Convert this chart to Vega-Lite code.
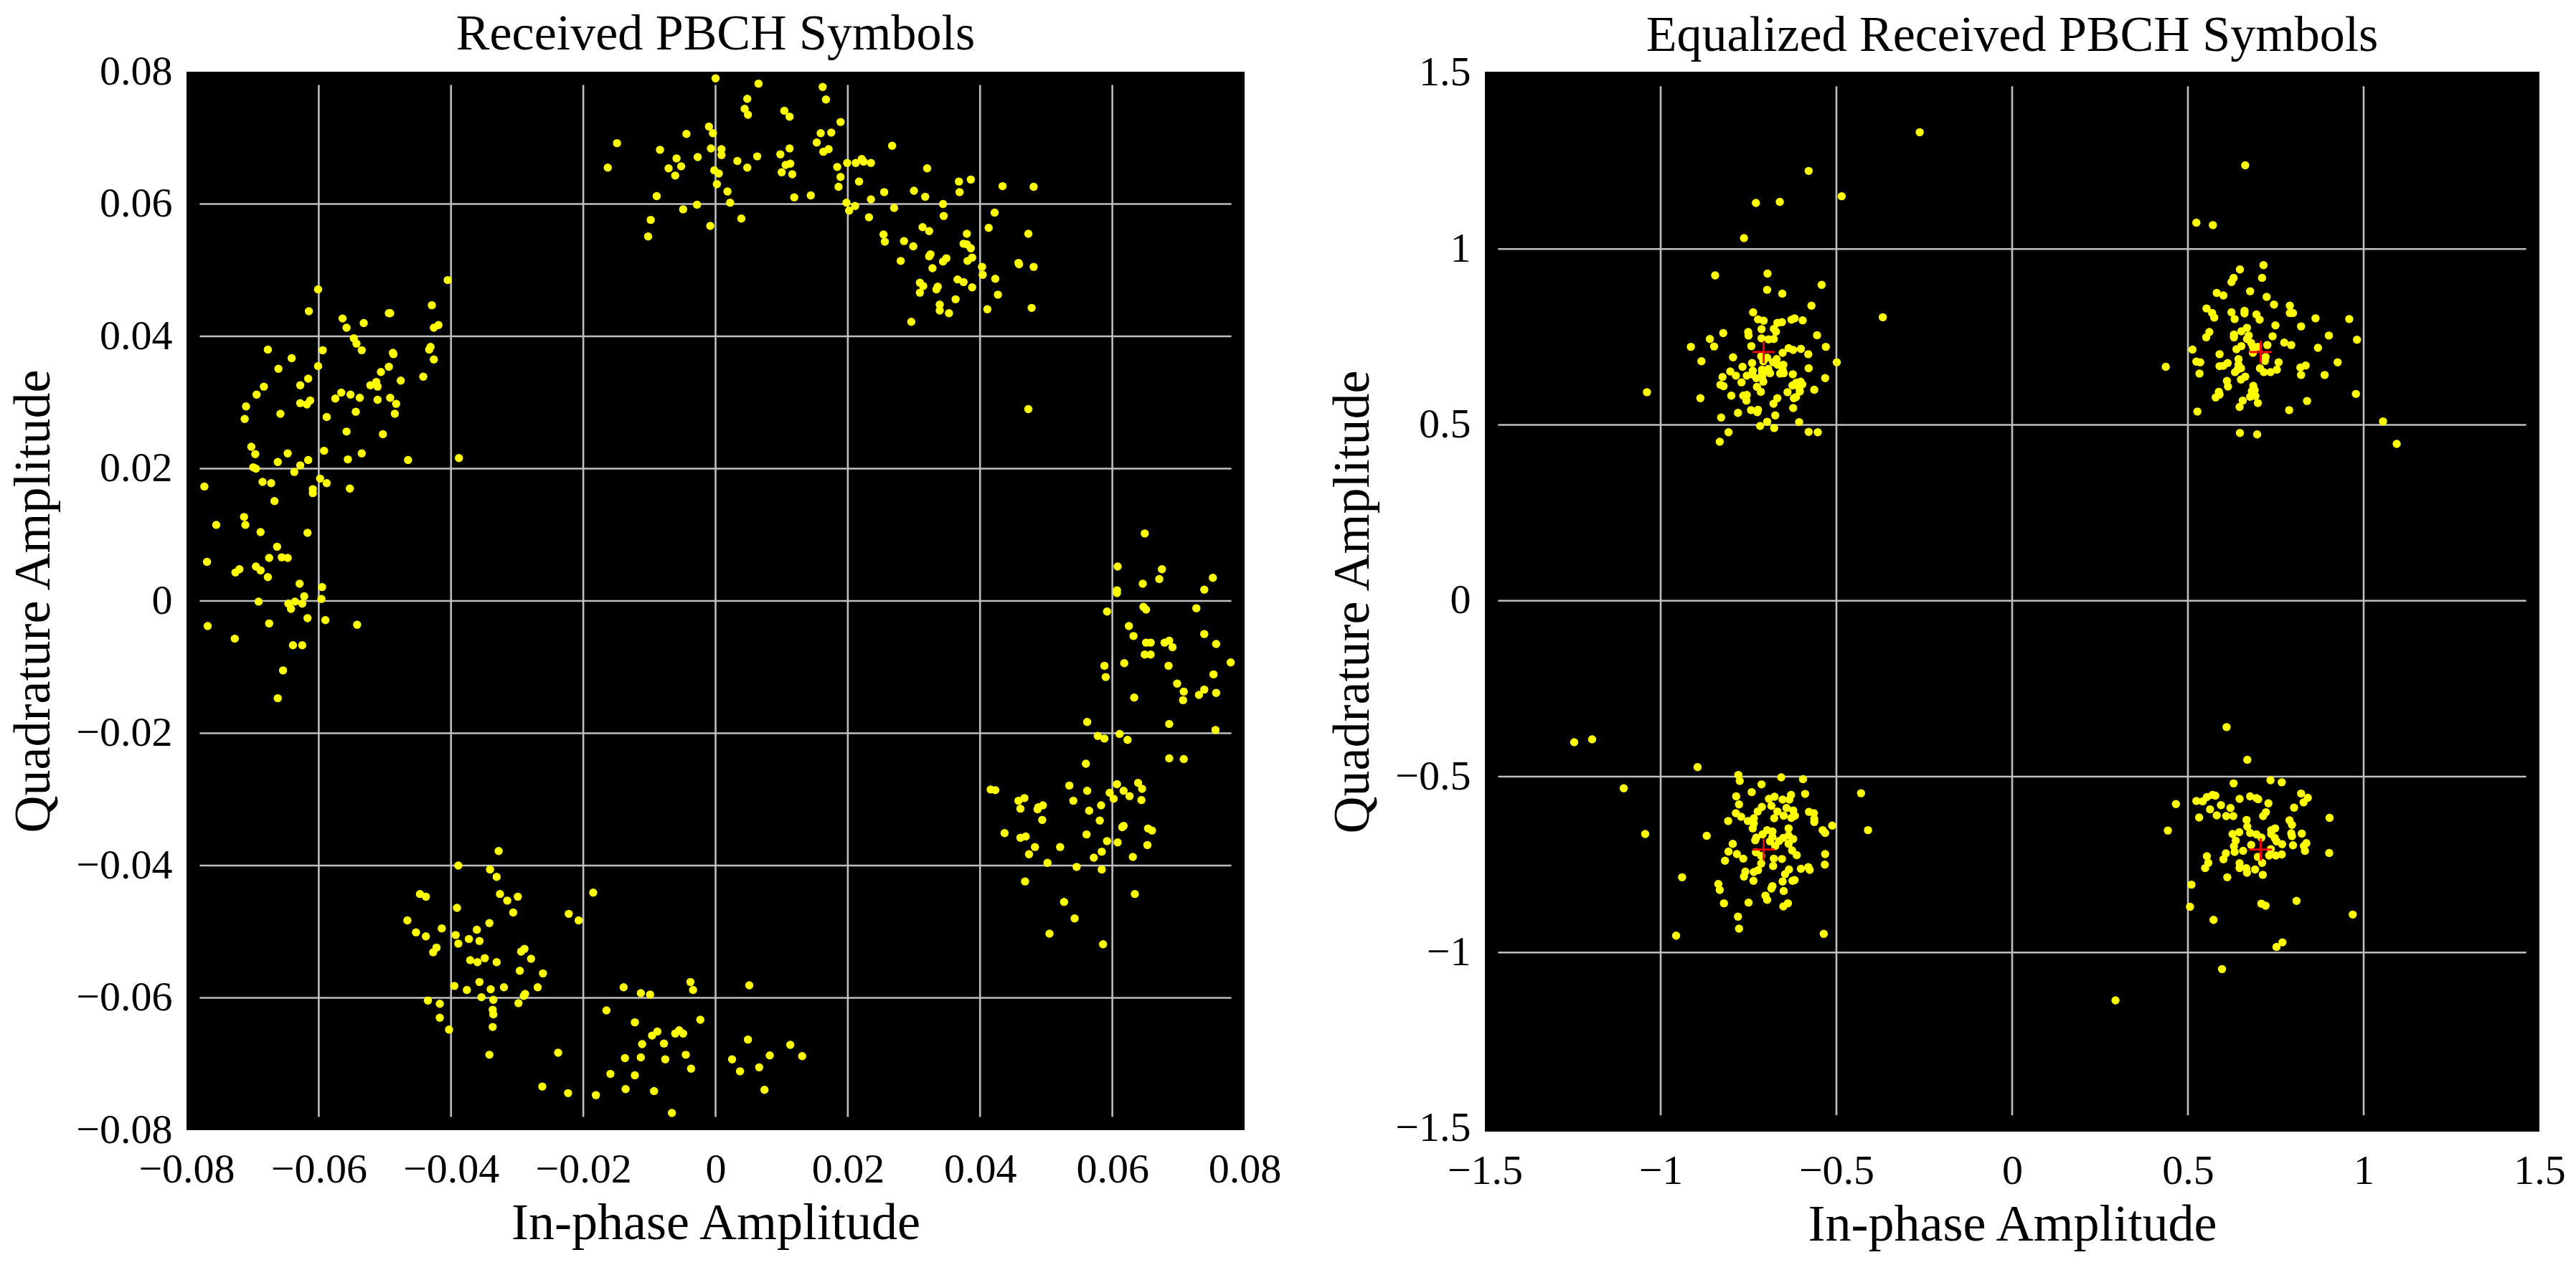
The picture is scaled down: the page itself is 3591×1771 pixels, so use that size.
{"$schema":"https://vega.github.io/schema/vega-lite/v6.json","background":"white","padding":{"left":10,"top":13,"right":50,"bottom":20},"bounds":"flush","spacing":335,
"config":{"view":{"fill":"#000000","stroke":null},"font":"Liberation Serif","title":{"font":"Liberation Serif","fontSize":70,"fontWeight":"normal","color":"#000000","offset":-13},"axis":{"labelFont":"Liberation Serif","titleFont":"Liberation Serif","labelFontSize":58,"titleFontSize":72,"titleFontWeight":"normal","labelColor":"#000000","titleColor":"#000000","grid":false,"domain":false,"ticks":false,"labelOverlap":false,"labelFlush":false}},
"datasets":{
"gridL":[{"v":-0.06,"a":-0.078,"b":0.078},{"v":-0.04,"a":-0.078,"b":0.078},{"v":-0.02,"a":-0.078,"b":0.078},{"v":0,"a":-0.078,"b":0.078},{"v":0.02,"a":-0.078,"b":0.078},{"v":0.04,"a":-0.078,"b":0.078},{"v":0.06,"a":-0.078,"b":0.078}],
"gridR":[{"v":-1,"a":-1.4625,"b":1.4625},{"v":-0.5,"a":-1.4625,"b":1.4625},{"v":0,"a":-1.4625,"b":1.4625},{"v":0.5,"a":-1.4625,"b":1.4625},{"v":1,"a":-1.4625,"b":1.4625}],
"ref":[{"i":-0.7071,"q":0.7071},{"i":0.7071,"q":0.7071},{"i":-0.7071,"q":-0.7071},{"i":0.7071,"q":-0.7071}],
"left":[{"i":0,"q":0.079},{"i":-0.001,"q":0.0717},{"i":-0.0004,"q":0.0707},{"i":-0.0044,"q":0.0706},{"i":-0.0149,"q":0.0692},{"i":-0.0084,"q":0.0682},{"i":-0.0007,"q":0.0684},{"i":-0.0059,"q":0.0669},{"i":-0.0027,"q":0.0671},{"i":-0.0052,"q":0.0657},{"i":-0.0071,"q":0.0654},{"i":-0.0163,"q":0.0655},{"i":-0.0002,"q":0.0651},{"i":-0.0061,"q":0.0643},{"i":0.0002,"q":0.063},{"i":-0.0089,"q":0.0612},{"i":-0.0028,"q":0.0599},{"i":-0.0049,"q":0.0592},{"i":-0.0098,"q":0.0576},{"i":-0.0008,"q":0.0567},{"i":-0.0102,"q":0.0551},
{"i":-0.0405,"q":0.0485},{"i":-0.0601,"q":0.0471},{"i":-0.0429,"q":0.0447},{"i":-0.0615,"q":0.0438},{"i":-0.0564,"q":0.0427},{"i":-0.0494,"q":0.0435},{"i":-0.0492,"q":0.0435},{"i":-0.0532,"q":0.042},{"i":-0.0558,"q":0.0413},{"i":-0.0419,"q":0.0417},{"i":-0.0426,"q":0.0413},{"i":-0.0547,"q":0.0397},{"i":-0.0543,"q":0.0389},{"i":-0.0677,"q":0.038},{"i":-0.0594,"q":0.0379},{"i":-0.0535,"q":0.0379},{"i":-0.0431,"q":0.0384},{"i":-0.0433,"q":0.038},{"i":-0.0488,"q":0.0375},{"i":-0.0487,"q":0.0373},{"i":-0.0641,"q":0.0367},{"i":-0.0426,"q":0.0365},{"i":-0.0601,"q":0.0355},{"i":-0.0494,"q":0.0354},{"i":-0.0661,"q":0.0351},{"i":-0.0506,"q":0.0346},{"i":-0.0442,"q":0.0339},{"i":-0.0616,"q":0.0336},{"i":-0.0476,"q":0.0333},{"i":-0.0513,"q":0.0331},{"i":-0.0522,"q":0.0326},{"i":-0.0511,"q":0.0324},{"i":-0.0628,"q":0.0326},{"i":-0.0683,"q":0.0324},{"i":-0.0694,"q":0.0312},{"i":-0.0566,"q":0.0315},{"i":-0.0552,"q":0.0312},{"i":-0.0575,"q":0.0306},{"i":-0.0538,"q":0.0307},{"i":-0.0492,"q":0.0307},{"i":-0.0511,"q":0.0304},{"i":-0.0613,"q":0.0303},{"i":-0.0628,"q":0.0299},{"i":-0.0618,"q":0.0297},{"i":-0.0483,"q":0.0298},{"i":-0.071,"q":0.0294},{"i":-0.0544,"q":0.0286},{"i":-0.0658,"q":0.0283},{"i":-0.0485,"q":0.0283},{"i":-0.0588,"q":0.0278},{"i":-0.0712,"q":0.0275},{"i":-0.0558,"q":0.0256},{"i":-0.0503,"q":0.0252},{"i":-0.0702,"q":0.0233},{"i":-0.0592,"q":0.0227},{"i":-0.0647,"q":0.0223},{"i":-0.0535,"q":0.0223},{"i":-0.0696,"q":0.0222},{"i":-0.0616,"q":0.0213},{"i":-0.0556,"q":0.0214},{"i":-0.0465,"q":0.0213},{"i":-0.0388,"q":0.0216},{"i":-0.0662,"q":0.021},{"i":-0.0628,"q":0.0205},{"i":-0.0699,"q":0.0202},{"i":-0.0695,"q":0.02},{"i":-0.0637,"q":0.0195},{"i":-0.0598,"q":0.0185},{"i":-0.0773,"q":0.0173},{"i":-0.0685,"q":0.018},{"i":-0.0672,"q":0.0178},{"i":-0.0588,"q":0.0178},{"i":-0.0609,"q":0.0169},{"i":-0.0553,"q":0.017},{"i":-0.0609,"q":0.0163},{"i":-0.0667,"q":0.0151},{"i":-0.0713,"q":0.0127},{"i":-0.0755,"q":0.0115},{"i":-0.0711,"q":0.0115},{"i":-0.0688,"q":0.0104},{"i":-0.0617,"q":0.0103},{"i":-0.0663,"q":0.0082},{"i":-0.0675,"q":0.0065},{"i":-0.0656,"q":0.0066},{"i":-0.0647,"q":0.0065},{"i":-0.0769,"q":0.0059},{"i":-0.0695,"q":0.0052},{"i":-0.0688,"q":0.0046},{"i":-0.072,"q":0.0048},{"i":-0.0726,"q":0.0043},{"i":-0.0677,"q":0.0036},{"i":-0.0629,"q":0.0026},{"i":-0.0595,"q":0.0021},{"i":-0.0622,"q":0.0007},{"i":-0.0596,"q":0.0003},{"i":-0.0691,"q":-0.0001},{"i":-0.0646,"q":-0.0004},{"i":-0.0636,"q":-0.0001},{"i":-0.0625,"q":-0.0004},
{"i":-0.0642,"q":-0.0012},{"i":-0.0617,"q":-0.0026},{"i":-0.059,"q":-0.0029},{"i":-0.0542,"q":-0.0036},{"i":-0.0768,"q":-0.0038},{"i":-0.0675,"q":-0.0034},{"i":-0.0727,"q":-0.0057},{"i":-0.0639,"q":-0.0067},{"i":-0.0625,"q":-0.0067},{"i":-0.0654,"q":-0.0105},{"i":-0.0662,"q":-0.0147},
{"i":-0.0328,"q":-0.0378},{"i":-0.0389,"q":-0.04},{"i":-0.0341,"q":-0.0406},{"i":-0.0331,"q":-0.0417},{"i":-0.0447,"q":-0.0443},{"i":-0.0438,"q":-0.0447},{"i":-0.0326,"q":-0.0443},{"i":-0.0299,"q":-0.0447},{"i":-0.0315,"q":-0.0453},{"i":-0.0185,"q":-0.0441},{"i":-0.0391,"q":-0.0464},{"i":-0.0306,"q":-0.0471},{"i":-0.0222,"q":-0.0473},{"i":-0.0207,"q":-0.0483},{"i":-0.0466,"q":-0.0483},{"i":-0.0342,"q":-0.0487},{"i":-0.0414,"q":-0.0495},{"i":-0.0361,"q":-0.0497},{"i":-0.0453,"q":-0.0501},{"i":-0.0438,"q":-0.0507},{"i":-0.0393,"q":-0.0505},{"i":-0.0373,"q":-0.0511},{"i":-0.0357,"q":-0.0514},{"i":-0.0389,"q":-0.0518},{"i":-0.0422,"q":-0.0524},{"i":-0.0427,"q":-0.0531},{"i":-0.0289,"q":-0.0526},{"i":-0.0294,"q":-0.053},{"i":-0.0279,"q":-0.0541},{"i":-0.0371,"q":-0.0543},{"i":-0.036,"q":-0.0546},{"i":-0.0349,"q":-0.054},{"i":-0.0331,"q":-0.0546},{"i":-0.0296,"q":-0.0559},{"i":-0.0261,"q":-0.0563},{"i":-0.0357,"q":-0.0576},{"i":-0.0395,"q":-0.0582},{"i":-0.0376,"q":-0.0588},{"i":-0.034,"q":-0.0587},{"i":-0.032,"q":-0.0584},{"i":-0.0269,"q":-0.0584},{"i":-0.0288,"q":-0.0594},{"i":-0.029,"q":-0.0597},{"i":-0.0354,"q":-0.0599},{"i":-0.0336,"q":-0.0603},{"i":-0.0435,"q":-0.0604},{"i":-0.0417,"q":-0.0609},{"i":-0.0298,"q":-0.0608},{"i":-0.0337,"q":-0.0618},{"i":-0.0336,"q":-0.0625},{"i":-0.0417,"q":-0.063},{"i":-0.0403,"q":-0.0648},{"i":-0.0337,"q":-0.0644},{"i":-0.0342,"q":-0.0686},{"i":-0.0238,"q":-0.0683},{"i":-0.0262,"q":-0.0734},{"i":-0.0223,"q":-0.0744},{"i":-0.0181,"q":-0.0747},
{"i":-0.0139,"q":-0.0584},{"i":-0.0113,"q":-0.0593},{"i":-0.0099,"q":-0.0595},{"i":-0.0038,"q":-0.0576},{"i":-0.0034,"q":-0.0588},{"i":-0.0165,"q":-0.0619},{"i":-0.0023,"q":-0.0633},{"i":-0.0122,"q":-0.0637},{"i":-0.0088,"q":-0.0651},{"i":-0.0096,"q":-0.0657},{"i":-0.0055,"q":-0.0649},{"i":-0.0061,"q":-0.0654},{"i":-0.0049,"q":-0.0654},{"i":-0.0111,"q":-0.067},{"i":-0.0078,"q":-0.0669},{"i":-0.0045,"q":-0.0686},{"i":-0.0137,"q":-0.0691},{"i":-0.0113,"q":-0.069},{"i":-0.0076,"q":-0.0693},{"i":-0.0037,"q":-0.0707},{"i":-0.0159,"q":-0.0715},{"i":-0.0122,"q":-0.0717},{"i":-0.0136,"q":-0.0738},{"i":-0.0093,"q":-0.0741},{"i":-0.0066,"q":-0.0774},
{"i":0.0065,"q":0.0782},{"i":0.0162,"q":0.0777},{"i":0.0048,"q":0.0759},{"i":0.0167,"q":0.0758},{"i":0.0044,"q":0.0744},{"i":0.0049,"q":0.0735},{"i":0.0104,"q":0.0741},{"i":0.0112,"q":0.0732},{"i":0.0189,"q":0.0724},{"i":0.0159,"q":0.0707},{"i":0.0175,"q":0.0708},{"i":0.0153,"q":0.0693},{"i":0.0267,"q":0.0688},{"i":0.0009,"q":0.0683},{"i":0.0009,"q":0.0674},{"i":0.0112,"q":0.0684},{"i":0.0098,"q":0.0675},{"i":0.0163,"q":0.0679},{"i":0.0171,"q":0.0683},{"i":0.0063,"q":0.0672},{"i":0.0033,"q":0.0665},{"i":0.0221,"q":0.0668},{"i":0.0224,"q":0.0664},{"i":0.0212,"q":0.0662},{"i":0.0235,"q":0.0662},{"i":0.0199,"q":0.0662},{"i":0.0113,"q":0.0661},{"i":0.0106,"q":0.0659},{"i":0.0048,"q":0.0655},{"i":0.0184,"q":0.0656},{"i":0.032,"q":0.0654},{"i":0.01,"q":0.0648},{"i":0.0116,"q":0.0645},{"i":0.0005,"q":0.0646},{"i":0.0189,"q":0.0641},{"i":0.0386,"q":0.0637},{"i":0.0368,"q":0.0634},{"i":0.0217,"q":0.0634},{"i":0.0434,"q":0.0627},{"i":0.0481,"q":0.0626},{"i":0.0186,"q":0.0626},{"i":0.0018,"q":0.0619},{"i":0.03,"q":0.062},{"i":0.0255,"q":0.0618},{"i":0.0369,"q":0.0618},{"i":0.0144,"q":0.0613},{"i":0.0119,"q":0.061},{"i":0.0317,"q":0.0611},{"i":0.0022,"q":0.0602},{"i":0.0235,"q":0.0607},{"i":0.0198,"q":0.0602},{"i":0.0344,"q":0.06},{"i":0.0211,"q":0.0597},{"i":0.0202,"q":0.059},{"i":0.027,"q":0.0594},{"i":0.0422,"q":0.0587},{"i":0.0345,"q":0.0582},{"i":0.0039,"q":0.0578},{"i":0.0232,"q":0.058},{"i":0.0313,"q":0.0565},{"i":0.0413,"q":0.0564},{"i":0.0323,"q":0.0559},{"i":0.0254,"q":0.0554},{"i":0.038,"q":0.0555},{"i":0.0473,"q":0.0555},{"i":0.0256,"q":0.0543},{"i":0.0285,"q":0.0544},{"i":0.0375,"q":0.054},{"i":0.038,"q":0.0539},{"i":0.0299,"q":0.0536},{"i":0.0386,"q":0.0533},{"i":0.0325,"q":0.0524},{"i":0.0323,"q":0.0521},{"i":0.0388,"q":0.0519},{"i":0.0349,"q":0.0518},{"i":0.0344,"q":0.0513},{"i":0.0381,"q":0.0514},{"i":0.028,"q":0.0514},{"i":0.0458,"q":0.0511},{"i":0.0459,"q":0.0509},{"i":0.0481,"q":0.0505},{"i":0.0328,"q":0.0503},{"i":0.0403,"q":0.0505},{"i":0.0404,"q":0.0493},{"i":0.0423,"q":0.0487},{"i":0.0366,"q":0.0486},{"i":0.0375,"q":0.0482},{"i":0.0309,"q":0.0481},{"i":0.0314,"q":0.0476},{"i":0.0336,"q":0.0475},{"i":0.0334,"q":0.0471},{"i":0.0388,"q":0.0474},{"i":0.0309,"q":0.0466},{"i":0.0427,"q":0.0463},{"i":0.0363,"q":0.0456},{"i":0.0339,"q":0.0448},{"i":0.0339,"q":0.0439},{"i":0.0353,"q":0.0435},{"i":0.0411,"q":0.0441},{"i":0.0478,"q":0.0443},{"i":0.0296,"q":0.0422},{"i":0.0473,"q":0.029},
{"i":0.0649,"q":0.0102},{"i":0.0608,"q":0.0052},{"i":0.0675,"q":0.0048},{"i":0.0752,"q":0.0035},{"i":0.0671,"q":0.0033},{"i":0.0646,"q":0.0026},{"i":0.0739,"q":0.0017},{"i":0.0607,"q":0.0016},{"i":0.0607,"q":0.0012},{"i":0.0592,"q":-0.0016},{"i":0.0647,"q":-0.0009},{"i":0.0651,"q":-0.0013},{"i":0.0727,"q":-0.0011},{"i":0.0625,"q":-0.0038},{"i":0.0632,"q":-0.0053},{"i":0.0739,"q":-0.005},{"i":0.0651,"q":-0.0063},{"i":0.0658,"q":-0.0063},{"i":0.0679,"q":-0.0063},{"i":0.0686,"q":-0.006},{"i":0.0691,"q":-0.007},{"i":0.0757,"q":-0.0065},{"i":0.0649,"q":-0.0081},{"i":0.0658,"q":-0.0081},{"i":0.0618,"q":-0.0094},{"i":0.0588,"q":-0.0098},{"i":0.0685,"q":-0.0098},{"i":0.0779,"q":-0.0093},{"i":0.0753,"q":-0.0111},{"i":0.059,"q":-0.0115},{"i":0.0698,"q":-0.0125},{"i":0.0708,"q":-0.0137},{"i":0.0739,"q":-0.0134},{"i":0.0731,"q":-0.0142},{"i":0.0757,"q":-0.0139},{"i":0.0633,"q":-0.0146},{"i":0.0707,"q":-0.015},{"i":0.0562,"q":-0.0183},{"i":0.0686,"q":-0.0186},{"i":0.0756,"q":-0.0195},{"i":0.0578,"q":-0.0204},{"i":0.0588,"q":-0.0208},{"i":0.0611,"q":-0.0201},{"i":0.0623,"q":-0.021},{"i":0.056,"q":-0.0246},{"i":0.0686,"q":-0.0238},{"i":0.0708,"q":-0.0239},{"i":0.0535,"q":-0.0279},{"i":0.0607,"q":-0.0277},{"i":0.0639,"q":-0.0275},{"i":0.0645,"q":-0.0284},{"i":0.0416,"q":-0.0285},{"i":0.0423,"q":-0.0286},{"i":0.0562,"q":-0.0287},{"i":0.0596,"q":-0.029},{"i":0.0617,"q":-0.0287},{"i":0.0626,"q":-0.0295},{"i":0.0458,"q":-0.0302},{"i":0.0467,"q":-0.0298},{"i":0.0541,"q":-0.0302},{"i":0.0602,"q":-0.0299},{"i":0.0644,"q":-0.0301},{"i":0.0495,"q":-0.0309},{"i":0.0488,"q":-0.0312},{"i":0.0487,"q":-0.0315},{"i":0.0461,"q":-0.0314},{"i":0.0583,"q":-0.0309},{"i":0.0565,"q":-0.0317},{"i":0.0494,"q":-0.0331},{"i":0.0581,"q":-0.0332},{"i":0.0617,"q":-0.034},{"i":0.0615,"q":-0.0342},{"i":0.0654,"q":-0.0344},{"i":0.066,"q":-0.0347},{"i":0.0437,"q":-0.0351},{"i":0.0561,"q":-0.0353},{"i":0.0469,"q":-0.0356},{"i":0.0461,"q":-0.0358},{"i":0.0592,"q":-0.0363},{"i":0.0608,"q":-0.0365},{"i":0.0653,"q":-0.0369},{"i":0.0483,"q":-0.0372},{"i":0.0521,"q":-0.0372},{"i":0.0584,"q":-0.0379},{"i":0.0474,"q":-0.0383},{"i":0.0572,"q":-0.0388},{"i":0.0631,"q":-0.0387},{"i":0.0502,"q":-0.0396},{"i":0.0546,"q":-0.0402},{"i":0.0584,"q":-0.0406},{"i":0.0468,"q":-0.0424},{"i":0.0634,"q":-0.0443},{"i":0.0527,"q":-0.0455},{"i":0.0543,"q":-0.048},{"i":0.0505,"q":-0.0503},{"i":0.0586,"q":-0.0519},
{"i":0.0051,"q":-0.0581},{"i":0.0049,"q":-0.0663},{"i":0.0113,"q":-0.0671},{"i":0.0082,"q":-0.0687},{"i":0.0131,"q":-0.0688},{"i":0.0025,"q":-0.0693},{"i":0.0066,"q":-0.0705},{"i":0.0037,"q":-0.0711},{"i":0.0074,"q":-0.0739}],
"right":[{"i":-0.41,"q":-0.652},{"i":-0.263,"q":1.332},{"i":-0.579,"q":1.222},{"i":-0.485,"q":1.15},{"i":-0.729,"q":1.131},{"i":-0.661,"q":1.134},{"i":-0.763,"q":1.031},{"i":-0.845,"q":0.925},{"i":-0.696,"q":0.93},{"i":-0.697,"q":0.884},{"i":-0.654,"q":0.873},{"i":-0.542,"q":0.898},{"i":-0.571,"q":0.839},{"i":-0.368,"q":0.806},{"i":-0.737,"q":0.82},{"i":-0.723,"q":0.8},{"i":-0.707,"q":0.796},{"i":-0.619,"q":0.803},{"i":-0.628,"q":0.799},{"i":-0.596,"q":0.797},{"i":-0.655,"q":0.792},{"i":-0.668,"q":0.79},{"i":-0.678,"q":0.773},{"i":-0.713,"q":0.772},{"i":-0.672,"q":0.765},{"i":-0.751,"q":0.764},{"i":-0.75,"q":0.754},{"i":-0.822,"q":0.761},{"i":-0.555,"q":0.755},{"i":-0.86,"q":0.744},{"i":-0.713,"q":0.746},{"i":-0.693,"q":0.743},{"i":-0.678,"q":0.744},{"i":-0.914,"q":0.722},{"i":-0.848,"q":0.723},{"i":-0.742,"q":0.724},{"i":-0.53,"q":0.722},{"i":-0.636,"q":0.718},{"i":-0.623,"q":0.713},{"i":-0.601,"q":0.716},{"i":-0.653,"q":0.705},{"i":-0.58,"q":0.701},{"i":-0.794,"q":0.692},{"i":-0.884,"q":0.681},{"i":-0.499,"q":0.678},{"i":-0.714,"q":0.695},{"i":-0.697,"q":0.691},{"i":-0.708,"q":0.681},{"i":-0.67,"q":0.687},{"i":-0.68,"q":0.678},{"i":-0.74,"q":0.676},{"i":-0.651,"q":0.671},{"i":-0.667,"q":0.671},{"i":-0.767,"q":0.665},{"i":-0.579,"q":0.661},{"i":-0.653,"q":0.657},{"i":-0.712,"q":0.657},{"i":-0.694,"q":0.659},{"i":-0.738,"q":0.654},{"i":-0.802,"q":0.652},{"i":-0.689,"q":0.647},{"i":-0.66,"q":0.646},{"i":-0.65,"q":0.647},{"i":-0.711,"q":0.647},{"i":-0.786,"q":0.64},{"i":-0.624,"q":0.644},{"i":-0.824,"q":0.636},{"i":-0.755,"q":0.64},{"i":-0.74,"q":0.644},{"i":-0.728,"q":0.633},{"i":-0.711,"q":0.637},{"i":-0.532,"q":0.633},{"i":-0.77,"q":0.621},{"i":-0.708,"q":0.623},{"i":-0.602,"q":0.623},{"i":-0.614,"q":0.62},{"i":-0.597,"q":0.615},{"i":-0.625,"q":0.612},{"i":-0.83,"q":0.614},{"i":-0.821,"q":0.61},{"i":-0.726,"q":0.608},{"i":-0.606,"q":0.606},{"i":-0.604,"q":0.595},{"i":-0.715,"q":0.594},{"i":-0.563,"q":0.6},{"i":-1.039,"q":0.593},{"i":-0.639,"q":0.593},{"i":-0.799,"q":0.583},{"i":-0.765,"q":0.583},{"i":-0.755,"q":0.585},{"i":-0.615,"q":0.579},{"i":-0.621,"q":0.576},{"i":-0.756,"q":0.569},{"i":-0.887,"q":0.576},{"i":-0.668,"q":0.576},{"i":-0.679,"q":0.56},{"i":-0.623,"q":0.548},{"i":-0.743,"q":0.542},{"i":-0.723,"q":0.543},{"i":-0.725,"q":0.536},{"i":-0.78,"q":0.534},{"i":-0.674,"q":0.527},{"i":-0.828,"q":0.521},{"i":-0.697,"q":0.509},{"i":-0.606,"q":0.508},{"i":-0.717,"q":0.497},{"i":-0.677,"q":0.491},{"i":-0.807,"q":0.479},{"i":-0.579,"q":0.48},{"i":-0.553,"q":0.479},{"i":-0.832,"q":0.452},
{"i":0.663,"q":1.238},{"i":0.524,"q":1.075},{"i":0.571,"q":1.068},{"i":0.715,"q":0.954},{"i":0.648,"q":0.942},{"i":0.63,"q":0.918},{"i":0.624,"q":0.906},{"i":0.711,"q":0.918},{"i":0.677,"q":0.88},{"i":0.582,"q":0.875},{"i":0.601,"q":0.868},{"i":0.724,"q":0.864},{"i":0.745,"q":0.842},{"i":0.79,"q":0.839},{"i":0.553,"q":0.831},{"i":0.624,"q":0.82},{"i":0.661,"q":0.824},{"i":0.661,"q":0.817},{"i":0.569,"q":0.818},{"i":0.695,"q":0.814},{"i":0.79,"q":0.818},{"i":0.799,"q":0.818},{"i":0.863,"q":0.803},{"i":0.959,"q":0.801},{"i":0.575,"q":0.805},{"i":0.633,"q":0.801},{"i":0.704,"q":0.799},{"i":0.749,"q":0.783},{"i":0.822,"q":0.78},{"i":0.668,"q":0.776},{"i":0.652,"q":0.766},{"i":0.561,"q":0.764},{"i":0.631,"q":0.757},{"i":0.552,"q":0.749},{"i":0.631,"q":0.749},{"i":0.673,"q":0.754},{"i":0.901,"q":0.754},{"i":0.741,"q":0.752},{"i":0.981,"q":0.742},{"i":0.668,"q":0.744},{"i":0.68,"q":0.733},{"i":0.774,"q":0.734},{"i":0.794,"q":0.727},{"i":0.726,"q":0.727},{"i":0.652,"q":0.724},{"i":0.685,"q":0.722},{"i":0.699,"q":0.722},{"i":0.87,"q":0.719},{"i":0.638,"q":0.715},{"i":0.513,"q":0.714},{"i":0.59,"q":0.701},{"i":0.685,"q":0.705},{"i":0.644,"q":0.687},{"i":0.721,"q":0.693},{"i":0.719,"q":0.682},{"i":0.524,"q":0.68},{"i":0.535,"q":0.678},{"i":0.758,"q":0.678},{"i":0.926,"q":0.678},{"i":0.613,"q":0.676},{"i":0.601,"q":0.668},{"i":0.59,"q":0.667},{"i":0.437,"q":0.665},{"i":0.644,"q":0.671},{"i":0.835,"q":0.669},{"i":0.82,"q":0.663},{"i":0.705,"q":0.661},{"i":0.716,"q":0.65},{"i":0.735,"q":0.65},{"i":0.753,"q":0.657},{"i":0.651,"q":0.661},{"i":0.641,"q":0.657},{"i":0.634,"q":0.65},{"i":0.533,"q":0.646},{"i":0.822,"q":0.642},{"i":0.889,"q":0.642},{"i":0.663,"q":0.637},{"i":0.651,"q":0.629},{"i":0.611,"q":0.625},{"i":0.614,"q":0.609},{"i":0.686,"q":0.611},{"i":0.69,"q":0.599},{"i":0.682,"q":0.596},{"i":0.588,"q":0.594},{"i":0.59,"q":0.586},{"i":0.978,"q":0.588},{"i":0.692,"q":0.582},{"i":0.677,"q":0.58},{"i":0.579,"q":0.578},{"i":0.656,"q":0.569},{"i":0.839,"q":0.568},{"i":0.699,"q":0.562},{"i":0.647,"q":0.551},{"i":0.788,"q":0.542},{"i":0.527,"q":0.538},{"i":1.055,"q":0.51},{"i":0.648,"q":0.477},{"i":0.697,"q":0.473},{"i":1.094,"q":0.446},
{"i":-1.246,"q":-0.402},{"i":-1.195,"q":-0.394},{"i":-0.895,"q":-0.473},{"i":-1.105,"q":-0.533},{"i":-1.044,"q":-0.663},{"i":-0.779,"q":-0.495},{"i":-0.775,"q":-0.512},{"i":-0.657,"q":-0.502},{"i":-0.595,"q":-0.507},{"i":-0.713,"q":-0.522},{"i":-0.741,"q":-0.544},{"i":-0.43,"q":-0.547},{"i":-0.785,"q":-0.556},{"i":-0.629,"q":-0.552},{"i":-0.589,"q":-0.549},{"i":-0.676,"q":-0.557},{"i":-0.692,"q":-0.563},{"i":-0.653,"q":-0.565},{"i":-0.634,"q":-0.565},{"i":-0.777,"q":-0.579},{"i":-0.685,"q":-0.583},{"i":-0.712,"q":-0.586},{"i":-0.642,"q":-0.589},{"i":-0.724,"q":-0.599},{"i":-0.668,"q":-0.599},{"i":-0.623,"q":-0.596},{"i":-0.578,"q":-0.6},{"i":-0.786,"q":-0.604},{"i":-0.564,"q":-0.604},{"i":-0.771,"q":-0.614},{"i":-0.65,"q":-0.611},{"i":-0.618,"q":-0.611},{"i":-0.628,"q":-0.617},{"i":-0.735,"q":-0.618},{"i":-0.677,"q":-0.618},{"i":-0.808,"q":-0.626},{"i":-0.563,"q":-0.62},{"i":-0.752,"q":-0.626},{"i":-0.563,"q":-0.629},{"i":-0.735,"q":-0.633},{"i":-0.512,"q":-0.639},{"i":-0.738,"q":-0.647},{"i":-0.636,"q":-0.647},{"i":-0.539,"q":-0.652},{"i":-0.697,"q":-0.652},{"i":-0.682,"q":-0.656},{"i":-0.532,"q":-0.66},{"i":-0.869,"q":-0.668},{"i":-0.71,"q":-0.664},{"i":-0.728,"q":-0.673},{"i":-0.636,"q":-0.667},{"i":-0.651,"q":-0.674},{"i":-0.682,"q":-0.671},{"i":-0.731,"q":-0.681},{"i":-0.623,"q":-0.677},{"i":-0.663,"q":-0.683},{"i":-0.689,"q":-0.684},{"i":-0.636,"q":-0.691},{"i":-0.795,"q":-0.691},{"i":-0.674,"q":-0.697},{"i":-0.626,"q":-0.71},{"i":-0.807,"q":-0.713},{"i":-0.783,"q":-0.72},{"i":-0.729,"q":-0.715},{"i":-0.532,"q":-0.72},{"i":-0.613,"q":-0.723},{"i":-0.678,"q":-0.733},{"i":-0.655,"q":-0.734},{"i":-0.765,"q":-0.733},{"i":-0.714,"q":-0.725},{"i":-0.817,"q":-0.739},{"i":-0.714,"q":-0.747},{"i":-0.68,"q":-0.754},{"i":-0.533,"q":-0.75},{"i":-0.58,"q":-0.757},{"i":-0.635,"q":-0.764},{"i":-0.601,"q":-0.762},{"i":-0.576,"q":-0.765},{"i":-0.723,"q":-0.766},{"i":-0.759,"q":-0.77},{"i":-0.735,"q":-0.771},{"i":-0.646,"q":-0.777},{"i":-0.763,"q":-0.784},{"i":-0.939,"q":-0.786},{"i":-0.736,"q":-0.796},{"i":-0.619,"q":-0.794},{"i":-0.653,"q":-0.798},{"i":-0.625,"q":-0.796},{"i":-0.836,"q":-0.805},{"i":-0.682,"q":-0.811},{"i":-0.685,"q":-0.818},{"i":-0.832,"q":-0.822},{"i":-0.65,"q":-0.825},{"i":-0.702,"q":-0.838},{"i":-0.697,"q":-0.85},{"i":-0.82,"q":-0.86},{"i":-0.75,"q":-0.858},{"i":-0.638,"q":-0.86},{"i":-0.651,"q":-0.869},{"i":-0.78,"q":-0.898},{"i":-0.777,"q":-0.932},{"i":-0.956,"q":-0.952},{"i":-0.536,"q":-0.947},
{"i":0.61,"q":-0.359},{"i":0.669,"q":-0.452},{"i":0.735,"q":-0.51},{"i":0.767,"q":-0.516},{"i":0.63,"q":-0.519},{"i":0.822,"q":-0.548},{"i":0.57,"q":-0.552},{"i":0.578,"q":-0.554},{"i":0.554,"q":-0.558},{"i":0.841,"q":-0.56},{"i":0.677,"q":-0.556},{"i":0.647,"q":-0.563},{"i":0.695,"q":-0.561},{"i":0.7,"q":-0.564},{"i":0.524,"q":-0.569},{"i":0.542,"q":-0.57},{"i":0.466,"q":-0.578},{"i":0.729,"q":-0.576},{"i":0.829,"q":-0.573},{"i":0.594,"q":-0.581},{"i":0.621,"q":-0.589},{"i":0.802,"q":-0.588},{"i":0.563,"q":-0.593},{"i":0.722,"q":-0.601},{"i":0.714,"q":-0.612},{"i":0.609,"q":-0.612},{"i":0.629,"q":-0.612},{"i":0.582,"q":-0.61},{"i":0.532,"q":-0.616},{"i":0.903,"q":-0.617},{"i":0.667,"q":-0.623},{"i":0.789,"q":-0.624},{"i":0.796,"q":-0.637},{"i":0.669,"q":-0.642},{"i":0.748,"q":-0.647},{"i":0.737,"q":-0.652},{"i":0.443,"q":-0.653},{"i":0.646,"q":-0.658},{"i":0.627,"q":-0.663},{"i":0.677,"q":-0.66},{"i":0.695,"q":-0.664},{"i":0.737,"q":-0.663},{"i":0.794,"q":-0.661},{"i":0.824,"q":-0.662},{"i":0.796,"q":-0.669},{"i":0.709,"q":-0.673},{"i":0.747,"q":-0.674},{"i":0.636,"q":-0.682},{"i":0.752,"q":-0.684},{"i":0.768,"q":-0.692},{"i":0.837,"q":-0.689},{"i":0.799,"q":-0.695},{"i":0.83,"q":-0.697},{"i":0.631,"q":-0.698},{"i":0.68,"q":-0.694},{"i":0.736,"q":-0.706},{"i":0.833,"q":-0.711},{"i":0.657,"q":-0.711},{"i":0.633,"q":-0.714},{"i":0.902,"q":-0.717},{"i":0.608,"q":-0.718},{"i":0.767,"q":-0.721},{"i":0.75,"q":-0.724},{"i":0.731,"q":-0.724},{"i":0.554,"q":-0.726},{"i":0.699,"q":-0.728},{"i":0.601,"q":-0.735},{"i":0.558,"q":-0.745},{"i":0.711,"q":-0.745},{"i":0.647,"q":-0.746},{"i":0.549,"q":-0.76},{"i":0.647,"q":-0.76},{"i":0.666,"q":-0.76},{"i":0.691,"q":-0.764},{"i":0.668,"q":-0.773},{"i":0.713,"q":-0.779},{"i":0.612,"q":-0.786},{"i":0.51,"q":-0.807},{"i":0.709,"q":-0.861},{"i":0.721,"q":-0.867},{"i":0.809,"q":-0.853},{"i":0.506,"q":-0.87},{"i":0.969,"q":-0.892},{"i":0.573,"q":-0.907},{"i":0.769,"q":-0.971},{"i":0.752,"q":-0.984},{"i":0.597,"q":-1.047},{"i":0.294,"q":-1.136}]
},
"hconcat":[
{"width":1475,"height":1476,"title":"Received PBCH Symbols",
"layer":[
{"data":{"name":"gridL"},"mark":{"type":"rule","color":"#bfbfbf","strokeWidth":2.6},"encoding":{"x":{"field":"v","type":"quantitative","scale":{"domain":[-0.08,0.08],"nice":false,"zero":false},"axis":{"title":"In-phase Amplitude","values":[-0.08,-0.06,-0.04,-0.02,0,0.02,0.04,0.06,0.08],"format":".2~f","labelPadding":26,"titlePadding":10}},"y":{"field":"a","type":"quantitative","scale":{"domain":[-0.08,0.08],"nice":false,"zero":false},"axis":{"title":"Quadrature Amplitude","values":[-0.08,-0.06,-0.04,-0.02,0,0.02,0.04,0.06,0.08],"format":".2~f","labelPadding":20,"titlePadding":22}},"y2":{"field":"b"}}},
{"data":{"name":"gridL"},"mark":{"type":"rule","color":"#bfbfbf","strokeWidth":2.6},"encoding":{"y":{"field":"v","type":"quantitative"},"x":{"field":"a","type":"quantitative"},"x2":{"field":"b"}}},
{"data":{"name":"left"},"mark":{"type":"circle","color":"#ffff00","opacity":1,"size":130},"encoding":{"x":{"field":"i","type":"quantitative"},"y":{"field":"q","type":"quantitative"}}}
]},
{"width":1470,"height":1478,"title":"Equalized Received PBCH Symbols",
"layer":[
{"data":{"name":"gridR"},"mark":{"type":"rule","color":"#bfbfbf","strokeWidth":2.6},"encoding":{"x":{"field":"v","type":"quantitative","scale":{"domain":[-1.5,1.5],"nice":false,"zero":false},"axis":{"title":"In-phase Amplitude","values":[-1.5,-1,-0.5,0,0.5,1,1.5],"format":".1~f","labelPadding":26,"titlePadding":10}},"y":{"field":"a","type":"quantitative","scale":{"domain":[-1.509,1.504],"nice":false,"zero":false},"axis":{"title":"Quadrature Amplitude","values":[-1.5,-1,-0.5,0,0.5,1,1.5],"format":".1~f","labelPadding":20,"titlePadding":22}},"y2":{"field":"b"}}},
{"data":{"name":"gridR"},"mark":{"type":"rule","color":"#bfbfbf","strokeWidth":2.6},"encoding":{"y":{"field":"v","type":"quantitative"},"x":{"field":"a","type":"quantitative"},"x2":{"field":"b"}}},
{"data":{"name":"right"},"mark":{"type":"circle","color":"#ffff00","opacity":1,"size":130},"encoding":{"x":{"field":"i","type":"quantitative"},"y":{"field":"q","type":"quantitative"}}},
{"data":{"name":"ref"},"mark":{"type":"point","shape":"M-1,-0.09H-0.09V-1H0.09V-0.09H1V0.09H0.09V1H-0.09V0.09H-1Z","filled":true,"color":"#ff0000","opacity":1,"size":961,"strokeWidth":0},"encoding":{"x":{"field":"i","type":"quantitative"},"y":{"field":"q","type":"quantitative"}}}
]}
]}
